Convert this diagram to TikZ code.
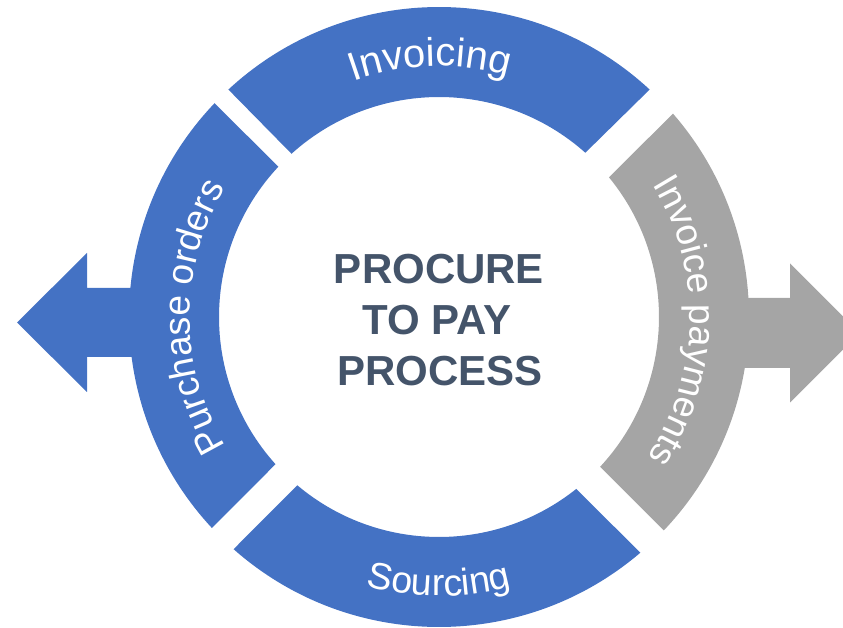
\documentclass[tikz,border=0pt]{standalone}
\usepackage{fontspec}
\setmainfont{Liberation Sans}
\usetikzlibrary{calc,decorations.text}
\definecolor{segblue}{HTML}{4472C4}
\definecolor{seggray}{HTML}{A5A5A5}
\definecolor{titlecol}{HTML}{44546A}
\tikzset{
  arclabel/.style 2 args={decorate, decoration={text along path, text align=center,
      text={|\color{white}\fontsize{#2}{#2}\selectfont|#1}}},
  titletext/.style={text=titlecol, font=\fontsize{42}{51}\selectfont\bfseries, anchor=base, inner sep=0pt}
}
\begin{document}
\begin{tikzpicture}[x=1pt,y=1pt]
\useasboundingbox (0,0) rectangle (843,627);
\clip (0,0) rectangle (843,627);
\coordinate (C) at (439,310);
% arrows
\fill[segblue] (180,339) -- (87,339) -- (87,374) -- (17,304.5) -- (87,235) -- (87,270) -- (180,270) -- cycle;
\fill[seggray] (700,329) -- (790,329) -- (790,363.5) -- (859.5,294) -- (790,224.5) -- (790,259) -- (700,259) -- cycle;
% ring segments
\fill[segblue] ($(C)+(132.8:310)$) arc[start angle=132.8,end angle=47.2,radius=310]
   -- ($(C)+(48.3:220)$) arc[start angle=48.3,end angle=132.1,radius=220] -- cycle;
\fill[seggray] ($(C)+(41.0:310)$) arc[start angle=41.0,end angle=-43.5,radius=310]
   -- ($(C)+(-42.9:220)$) arc[start angle=-42.9,end angle=39.4,radius=220] -- cycle;
\fill[segblue] ($(C)+(-49.5:310)$) arc[start angle=-49.5,end angle=-131.5,radius=310]
   -- ($(C)+(-130.1:220)$) arc[start angle=-130.1,end angle=-51.4,radius=220] -- cycle;
\fill[segblue] ($(C)+(222.9:310)$) arc[start angle=222.9,end angle=136.4,radius=310]
   -- ($(C)+(136.9:220)$) arc[start angle=136.9,end angle=222.0,radius=220] -- cycle;
% labels on arcs
\path[arclabel={Invoicing}{40}] ($(C)+(132:251)$) arc[start angle=132,end angle=52,radius=251];
\path[arclabel={Sourcing}{37.5}] ($(C)+(225:279)$) arc[start angle=225,end angle=315,radius=279];
\path[arclabel={Purchase orders}{37}] ($(C)+(224:249)$) arc[start angle=224,end angle=136,radius=249];
\path[arclabel={Invoice payments}{37}] ($(C)+(43:251)$) arc[start angle=43,end angle=-45,radius=251];
% centre title
\node[titletext] (t1) at (439,343.5) {PROCURE};
\node[titletext] (t2) at (437,292.5) {TO PAY};
\node[titletext] (t3) at (440,241.5) {PROCESS};
\end{tikzpicture}
\end{document}
